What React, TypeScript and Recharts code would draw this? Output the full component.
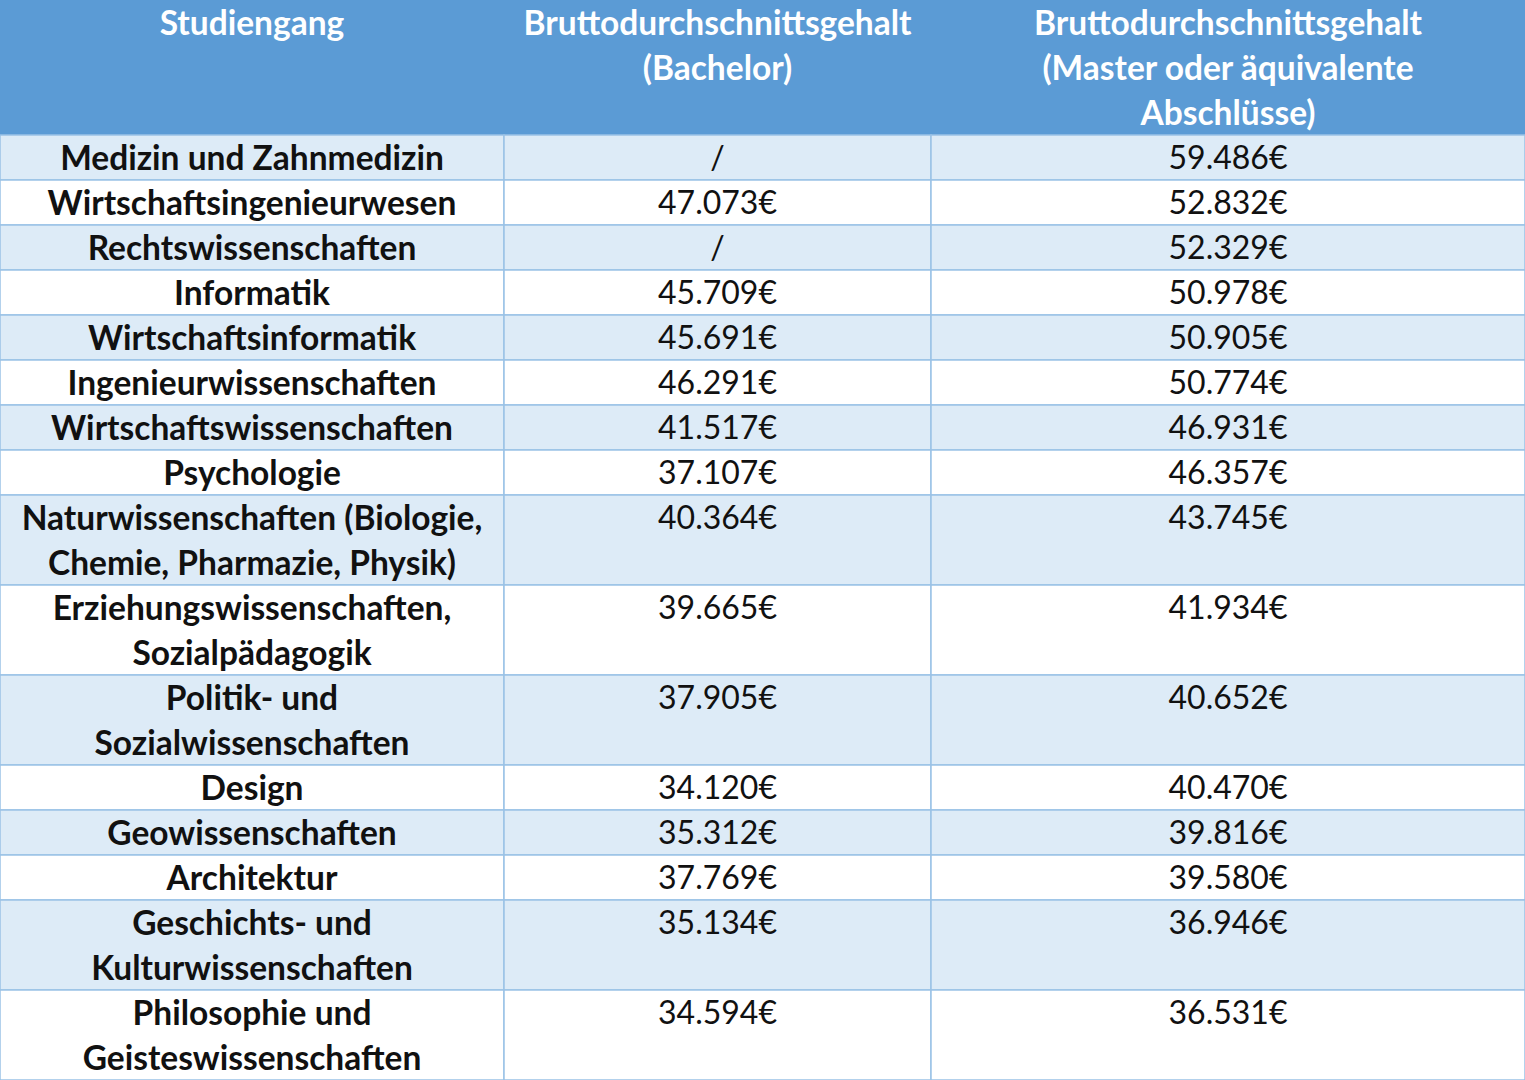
import { ComposedChart, XAxis, YAxis, Scatter, ReferenceArea } from "recharts";

// header cells, one array of lines per column
const HEADERS: string[][] = [
  ["Studiengang"],
  ["Bruttodurchschnittsgehalt", "(Bachelor)"],
  ["Bruttodurchschnittsgehalt", "(Master oder äquivalente", "Abschlüsse)"],
];

const PROGRAMS: string[][] = [
  ["Medizin und Zahnmedizin"],
  ["Wirtschaftsingenieurwesen"],
  ["Rechtswissenschaften"],
  ["Informatik"],
  ["Wirtschaftsinformatik"],
  ["Ingenieurwissenschaften"],
  ["Wirtschaftswissenschaften"],
  ["Psychologie"],
  ["Naturwissenschaften (Biologie,", "Chemie, Pharmazie, Physik)"],
  ["Erziehungswissenschaften,", "Sozialpädagogik"],
  ["Politik- und", "Sozialwissenschaften"],
  ["Design"],
  ["Geowissenschaften"],
  ["Architektur"],
  ["Geschichts- und", "Kulturwissenschaften"],
  ["Philosophie und", "Geisteswissenschaften"],
];

const BACHELOR: (number | null)[] = [
  null, 47073, null, 45709, 45691, 46291, 41517, 37107,
  40364, 39665, 37905, 34120, 35312, 37769, 35134, 34594,
];

const MASTER: number[] = [
  59486, 52832, 52329, 50978, 50905, 50774, 46931, 46357,
  43745, 41934, 40652, 40470, 39816, 39580, 36946, 36531,
];

// layout
const WIDTH = 1525;
const HEIGHT = 1080;
const COL_WIDTHS = [504, 427, 594];
const HEADER_LINES = 3;
const HEADER_BG = "#5B9BD5";
const STRIPE_BG = "#DDEBF7";
const BORDER = "#9BC2E6";
const FONT = "Lato, 'Open Sans', sans-serif";

const colEdges = COL_WIDTHS.reduce<number[]>((acc, w) => [...acc, acc[acc.length - 1] + w], [0]);
const colCenter = (i: number) => (colEdges[i] + colEdges[i + 1]) / 2;

const fmt = (v: number | null) => {
  if (v === null) return "/";
  const s = String(v);
  return s.slice(0, s.length - 3) + "." + s.slice(-3) + "€";
};

// each row starts after the header lines; height = number of label lines
const rowStarts: number[] = [];
let cursor = HEADER_LINES;
PROGRAMS.forEach((lines) => {
  rowStarts.push(cursor);
  cursor += lines.length;
});
const totalLines = cursor;

type Cell = { x: number; y: number; text: string; kind: "header" | "label" | "value" };
const cells: Cell[] = [];

HEADERS.forEach((lines, c) => {
  lines.forEach((t, i) => cells.push({ x: colCenter(c), y: i + 0.5, text: t, kind: "header" }));
});

PROGRAMS.forEach((lines, r) => {
  const top = rowStarts[r];
  lines.forEach((t, i) => cells.push({ x: colCenter(0), y: top + i + 0.5, text: t, kind: "label" }));
  cells.push({ x: colCenter(1), y: top + 0.5, text: fmt(BACHELOR[r]), kind: "value" });
  cells.push({ x: colCenter(2), y: top + 0.5, text: fmt(MASTER[r]), kind: "value" });
});

const CellText = (props: any) => {
  const { cx, cy, payload } = props;
  const p = payload as Cell;
  return (
    <text
      x={cx}
      y={cy}
      dy={-1}
      textAnchor="middle"
      dominantBaseline="central"
      fontFamily={FONT}
      fontSize={p.kind === "value" ? 32 : 33.5}
      fontWeight={p.kind === "value" ? 400 : 700}
      fill={p.kind === "header" ? "#FFFFFF" : "#111111"}
    >
      {p.text}
    </text>
  );
};

export default function App() {
  return (
    <div style={{ position: "absolute", left: 0, top: 0, background: "#fff" }}>
      <ComposedChart width={WIDTH} height={HEIGHT} margin={{ top: 0, right: 0, bottom: 0, left: 0 }}>
        <XAxis type="number" dataKey="x" domain={[0, colEdges[3]]} hide />
        <YAxis type="number" dataKey="y" domain={[0, totalLines]} reversed hide />

        <ReferenceArea
          x1={0}
          x2={colEdges[3]}
          y1={0}
          y2={HEADER_LINES}
          fill={HEADER_BG}
          fillOpacity={1}
          strokeWidth={0}
        />

        {PROGRAMS.map((lines, r) =>
          COL_WIDTHS.map((_, c) => (
            <ReferenceArea
              key={`${r}-${c}`}
              x1={colEdges[c]}
              x2={colEdges[c + 1]}
              y1={rowStarts[r]}
              y2={rowStarts[r] + lines.length}
              fill={r % 2 === 0 ? STRIPE_BG : "#FFFFFF"}
              fillOpacity={1}
              stroke={BORDER}
              strokeWidth={1.5}
            />
          ))
        )}

        <Scatter data={cells} dataKey="y" shape={CellText} isAnimationActive={false} />
      </ComposedChart>
    </div>
  );
}
